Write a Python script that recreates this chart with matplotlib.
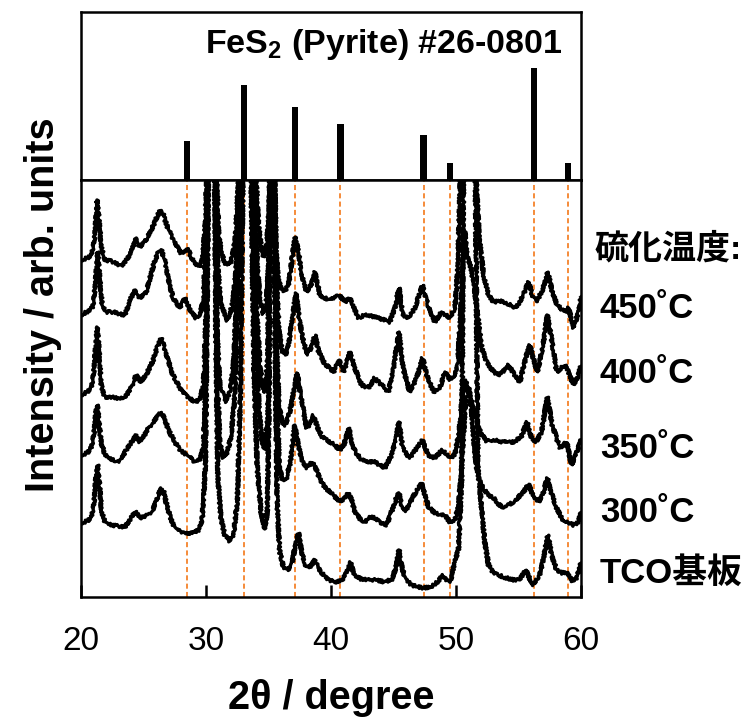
import matplotlib
matplotlib.use("Agg")
import matplotlib.pyplot as plt

plt.rcParams['font.family'] = ['Liberation Sans', 'Noto Sans CJK JP']
plt.rcParams['mathtext.fontset'] = 'custom'
plt.rcParams['mathtext.rm'] = 'Liberation Sans'
plt.rcParams['mathtext.bf'] = 'Liberation Sans:bold'

# FeS2 pyrite reference card #26-0801 (2theta, relative intensity)
ref_peaks = [28.5, 33.05, 37.1, 40.75, 47.4, 49.5, 56.25, 58.95]
ref_int = [35, 85, 65, 50, 40, 15, 100, 15]

# traced XRD patterns (2theta, intensity with stacking offset, arb. units)
tco = [(20.0, 74), (20.5, 76), (20.85, 80), (21.05, 95), (21.2, 120), (21.33, 132), (21.48, 112),
       (21.65, 85), (21.9, 76), (22.4, 72), (23.0, 71), (23.5, 70), (24.0, 79), (24.35, 86),
       (24.7, 79), (25.2, 81), (25.7, 86), (26.05, 97), (26.4, 109), (26.6, 106), (26.9, 90),
       (27.3, 74), (27.7, 67), (28.3, 64), (28.9, 64), (29.4, 67), (29.7, 78), (29.95, 130),
       (30.1, 300), (30.2, 420), (30.45, 600), (30.7, 420), (30.8, 250), (30.95, 120), (31.2, 78),
       (31.5, 62), (31.9, 56), (32.2, 62), (32.5, 95), (32.75, 200), (32.95, 420), (33.3, 600),
       (33.6, 420), (33.85, 220), (34.1, 130), (34.4, 85), (34.7, 68), (34.9, 85), (35.05, 200),
       (35.15, 420), (35.3, 600), (35.45, 420), (35.55, 220), (35.7, 90), (35.9, 45), (36.2, 30),
       (36.6, 27), (36.9, 35), (37.15, 52), (37.4, 64), (37.65, 45), (38.0, 30), (38.4, 31),
       (38.7, 37), (39.1, 27), (39.5, 20), (39.9, 17), (40.3, 15), (40.9, 17), (41.3, 26),
       (41.55, 35), (41.85, 22), (42.4, 18), (43.0, 17), (43.6, 17), (44.3, 15), (44.9, 18),
       (45.2, 30), (45.44, 47), (45.7, 28), (46.0, 17), (46.45, 12), (47.0, 10), (47.4, 9),
       (48.0, 10), (48.6, 16), (48.95, 22), (49.25, 17), (49.55, 16), (49.9, 35), (50.2, 48),
       (50.45, 117), (50.6, 420), (51.0, 600), (51.55, 420), (51.75, 130), (52.05, 88), (52.3, 55),
       (52.6, 32), (53.0, 24), (53.8, 20), (54.6, 17), (55.1, 18), (55.6, 27), (55.9, 18),
       (56.2, 12), (56.7, 22), (57.05, 42), (57.35, 62), (57.65, 42), (58.05, 27), (58.5, 24),
       (58.85, 25), (59.3, 16), (59.65, 19), (60.0, 34)]

s300 = [(20.0, 142), (20.5, 144), (20.85, 150), (21.05, 165), (21.2, 185), (21.32, 192), (21.45, 175),
        (21.6, 155), (21.9, 143), (22.4, 138), (22.9, 135), (23.3, 140), (23.7, 149), (24.1, 156),
        (24.35, 162), (24.7, 155), (25.0, 160), (25.4, 169), (25.9, 177), (26.4, 185), (26.7, 178),
        (27.0, 167), (27.5, 155), (28.0, 146), (28.5, 142), (29.1, 135), (29.5, 138), (29.8, 150),
        (30.0, 220), (30.15, 420), (30.45, 600), (30.75, 420), (30.9, 220), (31.1, 155), (31.4, 139),
        (31.7, 145), (32.0, 160), (32.3, 200), (32.55, 300), (32.8, 420), (33.35, 600), (33.75, 420),
        (34.0, 260), (34.25, 185), (34.5, 155), (34.72, 147), (34.95, 180), (35.1, 420), (35.3, 600),
        (35.5, 420), (35.65, 210), (35.85, 135), (36.1, 118), (36.4, 117), (36.75, 135), (37.1, 172),
        (37.4, 150), (37.75, 135), (38.1, 129), (38.45, 135), (38.7, 132), (39.1, 118), (39.5, 110),
        (39.9, 105), (40.2, 102), (40.65, 95), (41.0, 98), (41.4, 104), (41.65, 97), (41.9, 86),
        (42.3, 78), (42.7, 75), (43.1, 80), (43.5, 79), (44.0, 74), (44.45, 72), (44.95, 89),
        (45.2, 98), (45.44, 104), (45.7, 90), (46.0, 86), (46.5, 99), (46.9, 107), (47.25, 114),
        (47.55, 100), (47.8, 90), (48.3, 84), (48.8, 82), (49.1, 82), (49.5, 75), (49.9, 77),
        (50.2, 90), (50.45, 130), (50.7, 185), (50.9, 205), (51.05, 209), (51.25, 185), (51.5, 145),
        (51.75, 120), (52.2, 108), (52.6, 102), (53.0, 99), (53.4, 93), (53.8, 89), (54.2, 92),
        (54.6, 95), (55.0, 100), (55.4, 105), (55.8, 113), (56.2, 100), (56.6, 95), (57.0, 105),
        (57.3, 119), (57.6, 105), (58.05, 89), (58.4, 80), (58.7, 75), (59.05, 74), (59.4, 72),
        (59.8, 75), (60.0, 85)]

s350 = [(20.0, 202), (20.5, 205), (20.85, 210), (21.05, 228), (21.2, 255), (21.3, 270), (21.45, 245),
        (21.62, 212), (21.9, 200), (22.4, 200), (22.9, 199), (23.5, 199), (24.0, 209), (24.4, 222),
        (24.8, 215), (25.2, 222), (25.75, 236), (26.1, 250), (26.43, 259), (26.7, 248), (27.0, 236),
        (27.35, 222), (27.9, 209), (28.6, 199), (29.2, 195), (29.55, 199), (29.8, 212), (30.0, 280),
        (30.12, 420), (30.45, 600), (30.75, 420), (30.9, 260), (31.1, 212), (31.4, 202), (31.65, 195),
        (31.95, 209), (32.25, 240), (32.5, 320), (32.75, 420), (33.35, 600), (33.8, 420), (34.05, 290),
        (34.3, 235), (34.55, 210), (34.72, 205), (34.95, 240), (35.1, 420), (35.3, 600), (35.5, 420),
        (35.65, 250), (35.85, 190), (36.1, 174), (36.35, 172), (36.7, 185), (37.0, 205), (37.3, 224),
        (37.6, 200), (38.05, 169), (38.35, 173), (38.6, 182), (38.9, 170), (39.3, 160), (39.9, 155),
        (40.3, 152), (40.7, 147), (41.05, 153), (41.45, 169), (41.7, 152), (41.95, 145), (42.4, 138),
        (42.8, 135), (43.5, 135), (44.3, 129), (44.85, 142), (45.2, 160), (45.44, 175), (45.7, 152),
        (46.0, 143), (46.3, 139), (46.85, 149), (47.33, 157), (47.75, 142), (48.3, 139), (48.9, 147),
        (49.5, 139), (49.9, 142), (50.25, 165), (50.5, 200), (50.75, 217), (50.95, 208), (51.15, 200),
        (51.4, 190), (51.7, 175), (52.0, 163), (52.45, 156), (53.0, 157), (53.8, 155), (54.6, 155),
        (55.2, 160), (55.7, 175), (56.0, 160), (56.4, 155), (56.85, 165), (57.3, 200), (57.7, 172),
        (58.3, 149), (58.85, 155), (59.25, 132), (59.8, 149), (60.0, 158)]

s400 = [(20.0, 282), (20.6, 286), (20.95, 290), (21.15, 312), (21.33, 345), (21.5, 318), (21.7, 292),
        (22.0, 285), (22.7, 285), (23.1, 283), (23.5, 282), (24.0, 299), (24.35, 307), (24.7, 299),
        (25.2, 304), (25.5, 318), (25.8, 332), (26.15, 344), (26.43, 347), (26.75, 334), (27.0, 318),
        (27.35, 299), (27.9, 289), (28.3, 299), (28.55, 292), (28.8, 285), (29.2, 279), (29.55, 283),
        (29.8, 300), (30.0, 360), (30.1, 420), (30.45, 600), (30.8, 420), (30.95, 330), (31.15, 295),
        (31.4, 287), (31.65, 276), (31.9, 283), (32.15, 295), (32.4, 325), (32.65, 420), (33.4, 600),
        (33.9, 420), (34.1, 330), (34.35, 295), (34.6, 283), (34.8, 288), (35.0, 330), (35.1, 420),
        (35.3, 600), (35.5, 420), (35.65, 310), (35.85, 265), (36.1, 245), (36.35, 242), (36.65, 256),
        (36.9, 278), (37.2, 304), (37.5, 275), (37.8, 255), (38.1, 242), (38.45, 250), (38.72, 262),
        (39.0, 246), (39.5, 233), (39.9, 229), (40.2, 225), (40.65, 237), (41.0, 225), (41.52, 245),
        (41.9, 229), (42.45, 212), (43.0, 209), (43.5, 219), (44.05, 212), (44.6, 205), (45.0, 229),
        (45.25, 250), (45.44, 265), (45.65, 240), (45.85, 225), (46.3, 205), (46.85, 219), (47.33, 239),
        (47.65, 222), (48.2, 205), (48.7, 209), (49.12, 225), (49.5, 217), (49.9, 222), (50.15, 235),
        (50.4, 290), (50.6, 350), (50.72, 365), (50.9, 340), (51.2, 329), (51.45, 310), (51.75, 280),
        (52.05, 250), (52.45, 235), (53.0, 225), (53.5, 222), (54.2, 232), (54.7, 222), (55.1, 215),
        (55.6, 240), (55.9, 252), (56.2, 238), (56.5, 225), (56.95, 250), (57.3, 282), (57.65, 258),
        (58.05, 225), (58.7, 232), (59.0, 225), (59.4, 212), (59.8, 222), (60.0, 232)]

s450 = [(20.0, 337), (20.5, 339), (20.85, 342), (21.1, 360), (21.3, 397), (21.47, 372), (21.65, 349),
        (21.9, 337), (22.4, 336), (22.8, 334), (23.2, 331), (23.7, 338), (24.1, 348), (24.43, 359),
        (24.7, 350), (25.1, 355), (25.5, 364), (25.8, 372), (26.1, 381), (26.37, 387), (26.6, 382),
        (26.85, 372), (27.2, 362), (27.5, 355), (28.0, 344), (28.3, 345), (28.5, 349), (28.75, 342),
        (29.0, 335), (29.5, 330), (29.75, 340), (29.95, 375), (30.05, 420), (30.45, 600), (30.85, 420),
        (31.0, 368), (31.2, 345), (31.55, 333), (31.85, 332), (32.1, 340), (32.3, 355), (32.45, 380),
        (32.6, 420), (33.4, 600), (34.0, 420), (34.2, 372), (34.4, 352), (34.6, 340), (34.8, 343),
        (34.95, 370), (35.1, 400), (35.25, 414), (35.4, 395), (35.55, 355), (35.75, 322), (36.0, 308),
        (36.3, 306), (36.6, 312), (36.85, 335), (37.12, 360), (37.4, 345), (37.7, 320), (38.05, 305),
        (38.35, 310), (38.72, 325), (39.1, 302), (39.5, 299), (39.9, 297), (40.3, 300), (40.65, 302),
        (41.1, 295), (41.5, 299), (41.8, 290), (42.2, 279), (42.7, 282), (43.2, 281), (43.8, 279),
        (44.7, 275), (45.1, 289), (45.44, 309), (45.75, 282), (46.2, 279), (46.7, 289), (47.33, 312),
        (47.75, 292), (48.3, 275), (48.85, 285), (49.5, 279), (49.92, 289), (50.15, 330), (50.35, 420),
        (50.95, 600), (51.6, 420), (51.85, 360), (52.2, 322), (52.6, 302), (53.0, 295), (53.5, 296),
        (54.0, 294), (54.8, 289), (55.3, 300), (55.8, 315), (56.1, 302), (56.4, 295), (56.9, 306),
        (57.35, 325), (57.7, 305), (58.1, 292), (58.7, 285), (59.0, 289), (59.4, 269), (59.8, 285),
        (60.0, 300)]

patterns = [tco, s300, s350, s400, s450]
sample_labels = ['TCO基板', '300˚C', '350˚C', '400˚C', '450˚C']
label_ypix = [573, 512, 448, 373, 309]

W, H = 746, 720
fig = plt.figure(figsize=(W / 100, H / 100), dpi=100)
ax_top = fig.add_axes([81 / W, 1 - 180 / H, 500 / W, 168 / H])
ax = fig.add_axes([81 / W, 1 - 597 / H, 500 / W, 417 / H])

orange = '#f5822a'

# reference card bars
ax_top.bar(ref_peaks, ref_int, width=0.5, color='black')
ax_top.set_xlim(20, 60)
ax_top.set_ylim(0, 150)
ax_top.set_xticks([])
ax_top.set_yticks([])

# measured patterns
for p in ref_peaks:
    ax.axvline(p, color=orange, lw=1.3, ls=(0, (2.8, 1.8)), zorder=1)
for pat in patterns:
    xs, ys = zip(*pat)
    line, = ax.plot(xs, ys, color='black', lw=2.4, zorder=3)
    line.set_sketch_params(scale=1.4, length=2.5, randomness=2)  # noisy look of raw scans

ax.set_xlim(20, 60)
ax.set_ylim(0, 417)
ax.set_yticks([])
ax.set_xticks([20, 30, 40, 50, 60])
ax.tick_params(axis='x', direction='in', length=8.5, width=1.8, labelsize=24, pad=21)

for a in (ax, ax_top):
    for s in a.spines.values():
        s.set_linewidth(1.8)

fig.text(563 / W, 1 - 53 / H, r'FeS$_\mathbf{2}$ (Pyrite) #26-0801', ha='right', va='baseline',
         fontsize=24.5, fontweight='bold')
fig.text(331 / W, 1 - 698 / H, '2θ / degree', ha='center', va='center',
         fontsize=28.5, fontweight='bold')
fig.text(43 / W, 1 - 305 / H, 'Intensity / arb. units', ha='center', va='center',
         rotation=90, fontsize=28.5, fontweight='bold')
fig.text(595 / W, 1 - 249 / H, '硫化温度:', ha='left', va='center',
         fontsize=24.5, fontweight='bold')
for lab, yp in zip(sample_labels, label_ypix):
    fig.text(600 / W, 1 - yp / H, lab, ha='left', va='center', fontsize=25, fontweight='bold')

fig.savefig('out.png', dpi=100)
